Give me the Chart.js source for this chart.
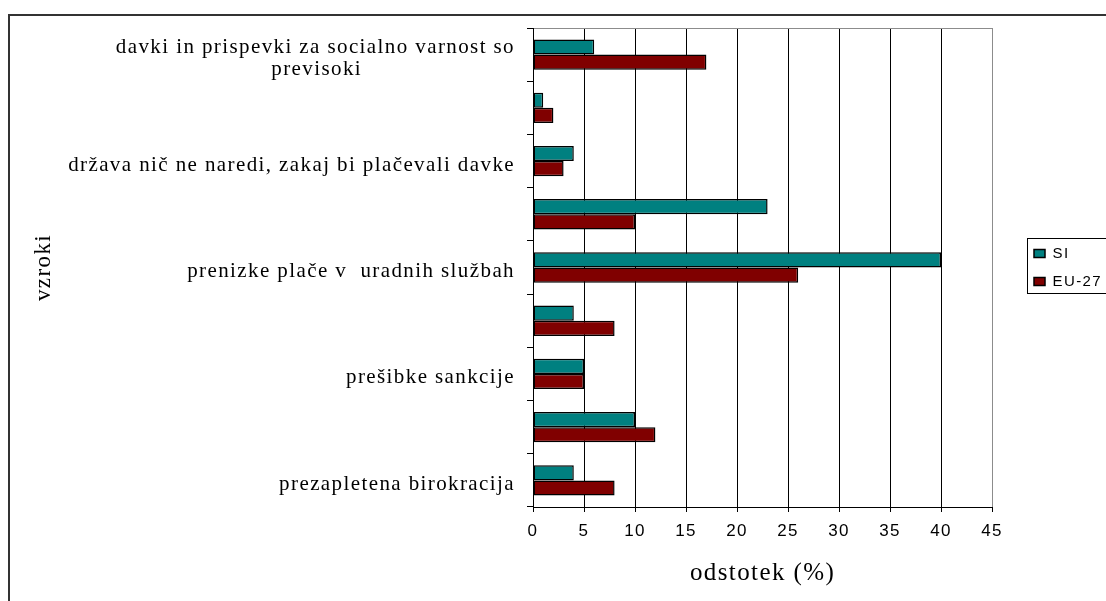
<!DOCTYPE html>
<html lang="sl">
<head>
    <meta charset="UTF-8">
    <title>Vzroki</title>
    <script src="https://cdn.jsdelivr.net/npm/chart.js"></script>
    <style>
        html, body { margin: 0; padding: 0; background: #fff; overflow: hidden; }
        #frame { position: absolute; left: 8px; top: 14px; width: 1200px; height: 700px;
                 border-left: 2px solid #333; border-top: 2px solid #333; }
        #wrap { position: absolute; left: 0; top: 0; width: 1106px; height: 601px; }
    </style>
</head>
<body>
    <div id="frame"></div>
    <div id="wrap"><canvas id="myChart" width="1106" height="601"></canvas></div>
    <script>
        // categories (only every other label is printed in the original)
        var categories = [
            ['davki in prispevki za socialno varnost so', 'previsoki'],
            '',
            'država nič ne naredi, zakaj bi plačevali davke',
            '',
            'prenizke plače v  uradnih službah',
            '',
            'prešibke sankcije',
            '',
            'prezapletena birokracija'
        ];
        var siValues = [6, 1, 4, 23, 40, 4, 5, 10, 4];
        var euValues = [17, 2, 3, 10, 26, 8, 5, 12, 8];
        var seriesNames = ['SI', 'EU-27'];
        var xMin = 0, xMax = 45, xStep = 5;

        var SPACING = '1.4px';
        var LABEL_FONT = '"Liberation Serif", "Times New Roman"';

        // center the lines of a multi-line label (Chart.js right-aligns them)
        var measureCtx = document.createElement('canvas').getContext('2d');
        measureCtx.font = '21px "Liberation Serif"';
        measureCtx.letterSpacing = SPACING;
        function centerLines(label) {
            if (!Array.isArray(label)) return label;
            var widths = label.map(function (t) { return measureCtx.measureText(t).width; });
            var maxW = Math.max.apply(null, widths);
            var spaceW = measureCtx.measureText('\u00a0').width;
            return label.map(function (t, i) {
                var n = Math.round((maxW - widths[i]) / 2 / spaceW);
                return t + '\u00a0'.repeat(n);
            });
        }

        // the old Excel picture has stretched text
        var letterSpacing = {
            id: 'letterSpacing',
            beforeDraw: function (chart) { chart.ctx.letterSpacing = SPACING; }
        };

        // fixed legend width + frame around the legend
        var legendFrame = {
            id: 'legendFrame',
            beforeLayout: function (chart) {
                var lg = chart.legend;
                if (lg && !lg._fixedFit) {
                    var fit = lg.fit;
                    lg.fit = function () { fit.call(this); this.width = 85; };
                    lg._fixedFit = true;
                }
            },
            afterDraw: function (chart) {
                var lg = chart.legend;
                var pad = 14, itemH = 15, n = 2;
                var colH = n * (itemH + pad);
                var top = ((lg.top + pad) + (lg.bottom - colH)) / 2;
                var ctx = chart.ctx;
                ctx.save();
                ctx.strokeStyle = '#000';
                ctx.lineWidth = 1;
                ctx.strokeRect(Math.round(lg.left + 6) + 0.5, Math.round(top - 8) + 0.5,
                    chart.width, colH - pad + 11);
                ctx.restore();
            }
        };

        var ctx = document.getElementById('myChart').getContext('2d');
        var myChart = new Chart(ctx, {
            type: 'bar',
            data: {
                labels: categories,
                datasets: [{
                    label: seriesNames[0],
                    data: siValues,
                    backgroundColor: '#008080',
                    borderColor: '#000',
                    borderWidth: 1.5,
                    borderSkipped: false,
                    yAxisID: 'y'
                }, {
                    label: seriesNames[1],
                    data: euValues,
                    backgroundColor: '#800000',
                    borderColor: '#000',
                    borderWidth: 1.5,
                    borderSkipped: false,
                    yAxisID: 'y'
                }]
            },
            plugins: [letterSpacing, legendFrame],
            options: {
                indexAxis: 'y',
                responsive: false,
                animation: false,
                devicePixelRatio: 1,
                categoryPercentage: 0.57,
                barPercentage: 1,
                layout: { padding: { left: 30, top: 28, right: 0, bottom: 13 } },
                plugins: {
                    tooltip: { enabled: false },
                    legend: {
                        position: 'right',
                        align: 'center',
                        fullSize: false,
                        labels: {
                            boxWidth: 11,
                            boxHeight: 8,
                            padding: 13,
                            color: '#000',
                            font: { family: '"Liberation Sans", Arial', size: 15 }
                        }
                    }
                },
                scales: {
                    x: {
                        type: 'linear',
                        min: xMin,
                        max: xMax,
                        afterFit: function (s) { s.height = 81; },
                        ticks: {
                            stepSize: xStep,
                            padding: 9,
                            color: '#000',
                            font: { family: '"Liberation Sans", Arial', size: 17 }
                        },
                        grid: {
                            color: function (c) { return c.tick && c.tick.value === xMax ? '#8c8c8c' : '#000'; },
                            tickColor: '#000',
                            tickLength: 5,
                            lineWidth: 1
                        },
                        border: { color: '#000', width: 1 },
                        title: {
                            display: true,
                            text: 'odstotek (%)',
                            color: '#000',
                            padding: 0,
                            font: { family: LABEL_FONT, size: 25 }
                        }
                    },
                    y: {
                        type: 'category',
                        position: 'left',
                        afterFit: function (s) { s.width = 503; },
                        ticks: {
                            autoSkip: false,
                            padding: 12,
                            labelOffset: 4,
                            color: '#000',
                            font: { family: LABEL_FONT, size: 21, lineHeight: 1.05 },
                            callback: function (value, index) { return centerLines(categories[index]); }
                        },
                        grid: {
                            offset: true,
                            color: function (c) { return c.index === 0 ? '#8c8c8c' : 'rgba(0,0,0,0)'; },
                            tickColor: '#000',
                            tickLength: 6
                        },
                        border: { color: '#000', width: 1 },
                        title: {
                            display: true,
                            text: 'vzroki',
                            color: '#000',
                            padding: 0,
                            font: { family: LABEL_FONT, size: 23 }
                        }
                    },
                    // empty gap between the plot and the legend
                    y2: {
                        type: 'linear',
                        position: 'right',
                        afterFit: function (s) { s.width = 29; },
                        grid: { display: false },
                        ticks: { display: false },
                        border: { display: false }
                    }
                }
            }
        });
    </script>
</body>
</html>
